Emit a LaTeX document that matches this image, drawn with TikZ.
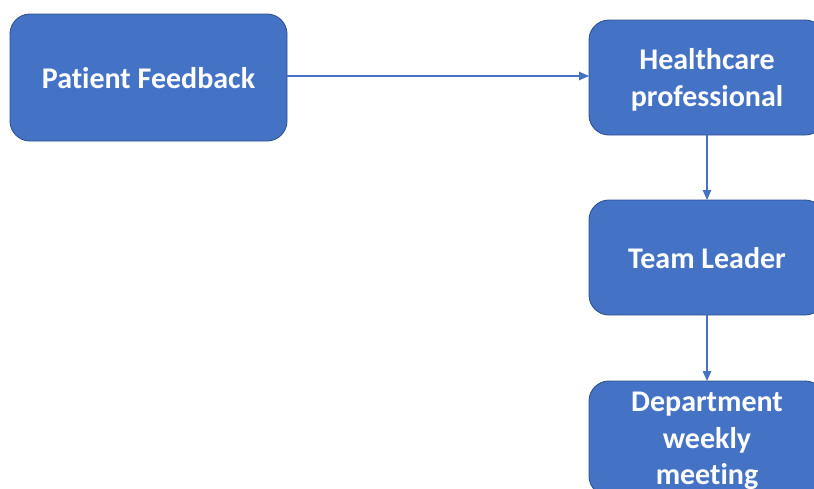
\documentclass[tikz,border=0pt]{standalone}
\usepackage{fontspec}
\setmainfont[Ligatures=NoCommon]{Carlito}
\usetikzlibrary{arrows.meta}
\definecolor{boxblue}{HTML}{4472C4}
\definecolor{boxedge}{HTML}{2F528F}
\tikzset{
  flowbox/.style={draw=boxedge, line width=0.9pt, fill=boxblue, rounded corners=20pt,
    text=white, font=\fontsize{30}{36.6}\selectfont\bfseries, align=center,
    text depth=0pt, inner sep=0pt, outer sep=0pt},
  flowarrow/.style={draw=boxblue, line width=1.1pt, -{Triangle[length=10pt,width=8.5pt]}}
}
\begin{document}
\begin{tikzpicture}[x=1pt, y=-1pt]
  \useasboundingbox (0,0) rectangle (814,488);
  \clip (0,0) rectangle (814,488);
  \node[flowbox, minimum width=277pt, minimum height=127pt] (pf) at (148.5,77.5) {Patient Feedback};
  \node[flowbox, minimum width=236pt, minimum height=115pt] (hc) at (707,77.5) {Healthcare\\professional};
  \node[flowbox, minimum width=236pt, minimum height=115pt] (tl) at (707,257.5) {Team Leader};
  \node[flowbox, minimum width=236pt, minimum height=115pt] (dw) at (707,438.5) {Department\\weekly\\meeting};
  \draw[flowarrow] (pf.east |- 0,76) -- (hc.west |- 0,76);
  \draw[flowarrow] (hc) -- (tl);
  \draw[flowarrow] (tl) -- (dw);
\end{tikzpicture}
\end{document}
